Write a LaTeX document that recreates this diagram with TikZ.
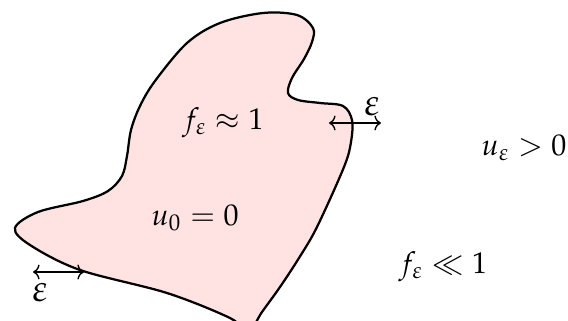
\documentclass[tikz,border=0pt]{standalone}
\usepackage{mathpazo}
\usetikzlibrary{arrows.meta}
\tikzset{
  region/.style={draw=black, line width=0.75pt, fill=red!11},
  gap/.style={{To[length=2.2pt,width=5pt]}-{To[length=2.2pt,width=5pt]}, line width=0.45pt},
  lbl/.style={inner sep=0pt},
  eps/.style={inner sep=0pt, scale=1.25}
}
\begin{document}
\begin{tikzpicture}[x=0.3333pt, y=-0.3333pt]
\useasboundingbox (0,0) rectangle (568,321);
\begin{scope}
\clip (0,0) rectangle (568,321);
\draw[region] plot[smooth cycle, tension=0.55] coordinates {
 (15,228) (38,212) (83,201) (108,191) (122,176) (127,156) (131,130) (140,106)
 (155,81) (187,43)
 (220,23) (263,13) (297,15) (313,28) (312,42) (304,59) (292,78) (288,93)
 (298,100) (320,103) (343,106) (352,120) (351,142) (344,167) (317,227)
 (299,258) (280,287) (262,312) (248,332) (230,318) (167,293) (80,270) (30,245)
};
\end{scope}
\node[lbl] (f1) at (223,123) {$f_\varepsilon \approx 1$};
\node[lbl] (u0) at (195,218) {$u_0 = 0$};
\node[lbl, anchor=east] (ue) at (567,148) {$u_\varepsilon > 0$};
\node[lbl] (fl) at (443,267) {$f_\varepsilon \ll 1$};
\coordinate (r1) at (329,123);
\coordinate (r2) at (381,123);
\coordinate (l1) at (33,272);
\coordinate (l2) at (84,272);
\draw[gap] (r1) -- (r2);
\draw[gap] (l1) -- (l2);
\node[eps] (er) at (372,107) {$\varepsilon$};
\node[eps] (el) at (40,293) {$\varepsilon$};
\end{tikzpicture}
\end{document}
